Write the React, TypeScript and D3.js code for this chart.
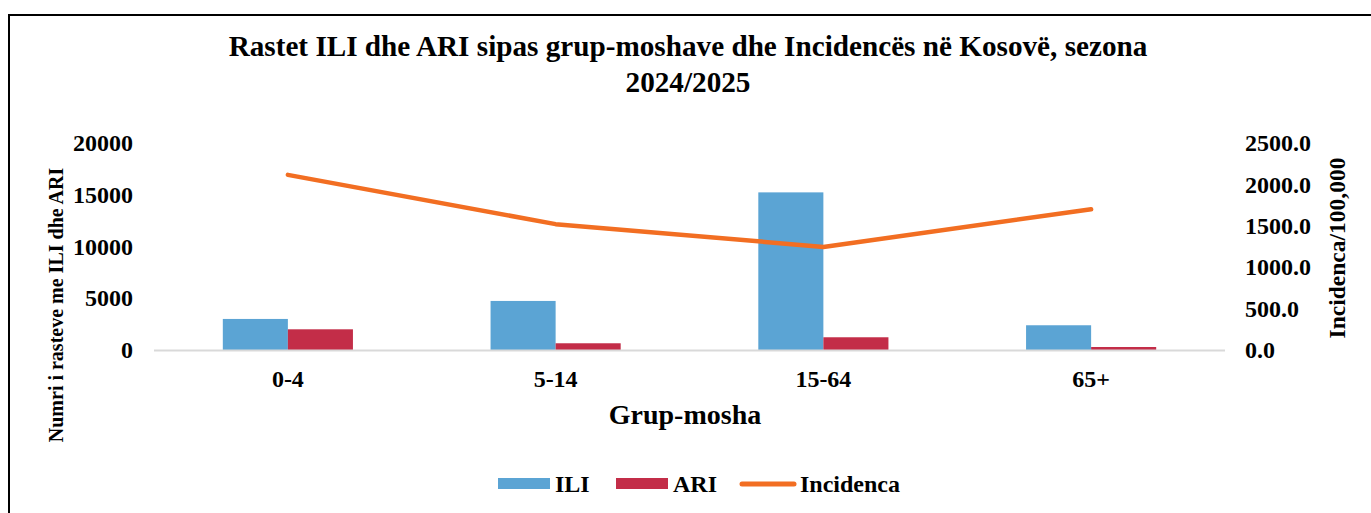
import React, { useEffect, useRef } from 'react';
import * as d3 from 'd3';

const categories = ['0-4', '5-14', '15-64', '65+'];
const iliValues = [3000, 4740, 15230, 2390];
const ariValues = [2000, 650, 1230, 290];
const incidenceValues = [2115, 1520, 1245, 1700];
const leftTicks = [0, 5000, 10000, 15000, 20000];
const rightTicks = [0, 500, 1000, 1500, 2000, 2500];

const W = 1371;
const H = 513;
const FONT = '"Liberation Serif", "Times New Roman", serif';

const App: React.FC = () => {
  const svgRef = useRef<SVGSVGElement>(null);

  useEffect(() => {
    if (!svgRef.current) return;
    const svg = d3.select(svgRef.current);
    svg.selectAll('*').remove();

    svg.append('rect').attr('width', W).attr('height', H).attr('fill', 'white');

    // outer frame
    svg.append('rect')
      .attr('x', 9).attr('y', 15)
      .attr('width', W + 20).attr('height', H + 20)
      .attr('fill', 'none')
      .attr('stroke', '#000')
      .attr('stroke-width', 2);

    const left = 154;
    const right = 1225;
    const top = 143;
    const bottom = 350;

    const x = d3.scaleBand<string>()
      .domain(categories)
      .range([left, right]);

    const xInner = d3.scaleBand<string>()
      .domain(['ILI', 'ARI'])
      .range([0, x.bandwidth() * 0.486]);

    const yLeft = d3.scaleLinear().domain([0, 20000]).range([bottom, top]);
    const yRight = d3.scaleLinear().domain([0, 2500]).range([bottom, top]);

    // title
    const title = svg.append('text')
      .attr('text-anchor', 'middle')
      .attr('font-family', FONT)
      .attr('font-weight', 'bold')
      .attr('font-size', 29.2)
      .attr('fill', '#000');
    title.append('tspan').attr('x', 688).attr('y', 56)
      .text('Rastet ILI dhe ARI sipas grup-moshave dhe Incidencës në Kosovë, sezona');
    title.append('tspan').attr('x', 688).attr('y', 92).text('2024/2025');

    // bars
    const barOffset = (x.bandwidth() - x.bandwidth() * 0.486) / 2;
    const series = [
      { key: 'ILI', values: iliValues, color: '#5BA4D4' },
      { key: 'ARI', values: ariValues, color: '#C32D48' }
    ];
    series.forEach(s => {
      svg.append('g')
        .selectAll('rect')
        .data(categories)
        .join('rect')
        .attr('x', c => (x(c) ?? 0) + barOffset + (xInner(s.key) ?? 0))
        .attr('y', (c, i) => yLeft(s.values[i]))
        .attr('width', xInner.bandwidth())
        .attr('height', (c, i) => bottom - yLeft(s.values[i]))
        .attr('fill', s.color);
    });

    // baseline
    svg.append('line')
      .attr('x1', left).attr('x2', right)
      .attr('y1', bottom + 0.5).attr('y2', bottom + 0.5)
      .attr('stroke', '#D9D9D9')
      .attr('stroke-width', 2);

    // incidence line
    const line = d3.line<number>()
      .x((d, i) => (x(categories[i]) ?? 0) + x.bandwidth() / 2)
      .y(d => yRight(d));
    svg.append('path')
      .datum(incidenceValues)
      .attr('d', line)
      .attr('fill', 'none')
      .attr('stroke', '#F26E22')
      .attr('stroke-width', 4.5)
      .attr('stroke-linecap', 'round')
      .attr('stroke-linejoin', 'round');

    const styleTicks = (g: d3.Selection<SVGGElement, unknown, null, undefined>) => {
      g.select('.domain').remove();
      g.selectAll('text')
        .attr('font-family', FONT)
        .attr('font-weight', 'bold')
        .attr('font-size', 24)
        .attr('fill', '#000');
    };

    // left axis
    svg.append('g')
      .attr('transform', `translate(${left - 21},0)`)
      .call(d3.axisLeft(yLeft).tickValues(leftTicks).tickSize(0).tickPadding(0).tickFormat(d => String(d)))
      .call(styleTicks);

    // right axis
    svg.append('g')
      .attr('transform', `translate(${right + 20},0)`)
      .call(d3.axisRight(yRight).tickValues(rightTicks).tickSize(0).tickPadding(0).tickFormat(d => (d as number).toFixed(1)))
      .call(styleTicks);

    // x axis labels
    svg.append('g')
      .attr('transform', `translate(0,${bottom + 20})`)
      .call(d3.axisBottom(x).tickSize(0).tickPadding(0))
      .call(styleTicks);

    // axis titles
    svg.append('text')
      .attr('x', 685).attr('y', 424)
      .attr('text-anchor', 'middle')
      .attr('font-family', FONT).attr('font-weight', 'bold').attr('font-size', 28)
      .text('Grup-mosha');

    svg.append('text')
      .attr('transform', 'translate(63,305) rotate(-90)')
      .attr('text-anchor', 'middle')
      .attr('font-family', FONT).attr('font-weight', 'bold').attr('font-size', 20)
      .text('Numri i rasteve me ILI dhe ARI');

    svg.append('text')
      .attr('transform', 'translate(1345,248) rotate(-90)')
      .attr('text-anchor', 'middle')
      .attr('font-family', FONT).attr('font-weight', 'bold').attr('font-size', 23.5)
      .text('Incidenca/100,000');

    // legend
    const legend = svg.append('g').attr('font-family', FONT).attr('font-weight', 'bold').attr('font-size', 24);
    const ly = 484;
    legend.append('rect').attr('x', 498).attr('y', ly - 6).attr('width', 52).attr('height', 11).attr('fill', '#5BA4D4');
    legend.append('text').attr('x', 555).attr('y', ly + 8).text('ILI');
    legend.append('rect').attr('x', 616).attr('y', ly - 6).attr('width', 52).attr('height', 11).attr('fill', '#C32D48');
    legend.append('text').attr('x', 673).attr('y', ly + 8).text('ARI');
    legend.append('line')
      .attr('x1', 742).attr('x2', 794).attr('y1', ly).attr('y2', ly)
      .attr('stroke', '#F26E22').attr('stroke-width', 5).attr('stroke-linecap', 'round');
    legend.append('text').attr('x', 800).attr('y', ly + 8).text('Incidenca');
  }, []);

  return (
    <svg
      ref={svgRef}
      width={W}
      height={H}
      style={{ position: 'absolute', left: 0, top: 0, display: 'block' }}
    />
  );
};

export default App;
